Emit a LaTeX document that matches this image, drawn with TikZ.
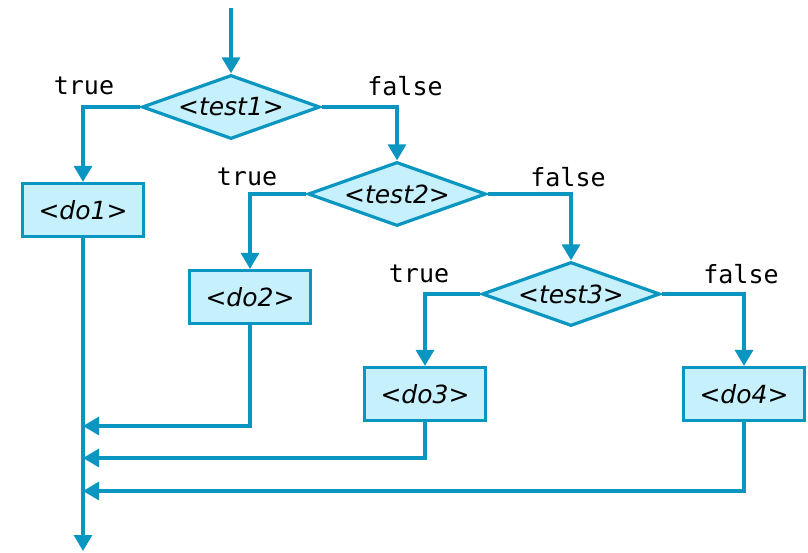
\documentclass[tikz,border=0pt]{standalone}
\usepackage{fontspec}
\setmainfont{DejaVu Sans}
\newfontfamily\labelfont{DejaVu Sans Mono}
\usetikzlibrary{shapes.geometric,arrows.meta}
\definecolor{flowline}{HTML}{0A96C0}
\definecolor{flowfill}{HTML}{C6F0FB}
\begin{document}
\begin{tikzpicture}[x=1pt,y=-1pt,
  flow/.style={draw=flowline, line width=3.2pt, -{Triangle[length=16pt,width=18pt]}},
  decision/.style={diamond, draw=flowline, fill=flowfill, line width=3.2pt, inner sep=0pt, aspect=2.8,
    minimum width=178pt, minimum height=64pt, font=\fontsize{25}{28}\selectfont\itshape},
  action/.style={rectangle, draw=flowline, fill=flowfill, line width=3.2pt,
    minimum width=121pt, minimum height=53pt, font=\fontsize{25}{28}\selectfont\itshape},
  branch/.style={font=\labelfont\fontsize{25}{28}\selectfont, text=black}]
\useasboundingbox (0,0) rectangle (808,553);

\coordinate (start) at (231,8);
\node[decision] (t1) at (231,107) {<test1>};
\node[decision] (t2) at (397,194) {<test2>};
\node[decision] (t3) at (571,294) {<test3>};
\node[action] (d1) at (83,210) {<do1>};
\node[action] (d2) at (250,297) {<do2>};
\node[action] (d3) at (425,394) {<do3>};
\node[action] (d4) at (744,394) {<do4>};
\coordinate (end) at (83,551);
\coordinate (j2) at (83,426);
\coordinate (j3) at (83,458);
\coordinate (j4) at (83,491);

\draw[flow] (start) -- (t1.north);
\draw[flow] (t1.west) -| (d1.north);
\draw[flow] (t1.east) -| (t2.north);
\draw[flow] (t2.west) -| (d2.north);
\draw[flow] (t2.east) -| (t3.north);
\draw[flow] (t3.west) -| (d3.north);
\draw[flow] (t3.east) -| (d4.north);

\draw[flow] (d1.south) -- (end);
\draw[flow] (d2.south) |- (j2);
\draw[flow] (d3.south) |- (j3);
\draw[flow] (d4.south) |- (j4);

\node[branch] (l1) at (84,86) {true};
\node[branch] (l2) at (405,86) {false};
\node[branch] (l3) at (247,177) {true};
\node[branch] (l4) at (568,177) {false};
\node[branch] (l5) at (419,274) {true};
\node[branch] (l6) at (741,274) {false};
\end{tikzpicture}
\end{document}
